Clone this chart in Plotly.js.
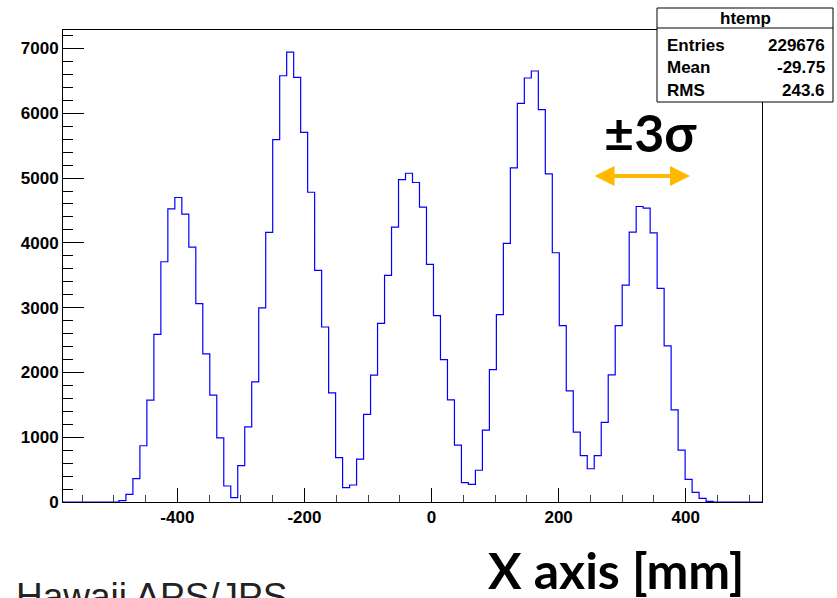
<!DOCTYPE html>
<html>
<head>
<meta charset="utf-8">
<script src="https://cdn.plot.ly/plotly-3.0.1.min.js"></script>
<style>html,body{margin:0;padding:0;background:#fff;}#chart{width:837px;height:598px;}</style>
</head>
<body>
<div id="chart"></div>
<script>
// Histogram binning (ROOT default: 100 bins)
const binLow = -580;
const binWidth = 11;
const counts = [
  0, 0, 0, 0, 0, 0, 0, 0, 20, 118,
  360, 868, 1572, 2588, 3708, 4525, 4700, 4443, 3934, 3061,
  2285, 1649, 991, 247, 67, 562, 1161, 1854, 2997, 4160,
  5593, 6579, 6944, 6553, 5706, 4781, 3575, 2701, 1684, 686,
  221, 262, 662, 1351, 1957, 2758, 3498, 4242, 4977, 5074,
  4931, 4550, 3667, 2876, 2199, 1577, 878, 298, 272, 490,
  1109, 2044, 2892, 3991, 5157, 6153, 6544, 6652, 6055, 5064,
  3847, 2722, 1715, 1077, 716, 513, 716, 1228, 1962, 2722,
  3348, 4165, 4561, 4535, 4155, 3297, 2409, 1422, 801, 350,
  149, 57, 11, 0, 0, 0, 0, 0, 0, 0
];
// Stats box
const statsTitle = "htemp";
const statsLabels = ["Entries", "Mean", "RMS"];
const statsValues = ["229676", "-29.75", "243.6"];
// Axis ticks
const xTickVals = [-400, -200, 0, 200, 400];
const xTickText = ["-400", "-200", "0", "200", "400"];
const yTickVals = [0, 1000, 2000, 3000, 4000, 5000, 6000, 7000];
const yTickText = ["0", "1000", "2000", "3000", "4000", "5000", "6000", "7000"];
const xRange = [-580, 520];
const yRange = [0, 7285];

// build step outline from bin edges
const xs = [], ys = [];
for (let i = 0; i < counts.length; i++) {
  xs.push(binLow + i * binWidth);
  ys.push(counts[i]);
}
xs.push(binLow + counts.length * binWidth);
ys.push(counts[counts.length - 1]);

const W = 837, H = 598;
const M = {l: 63, r: 75, t: 30, b: 96};
const PW = W - M.l - M.r, PH = H - M.t - M.b;
const px = v => (v - M.l) / PW;
const py = v => (H - M.b - v) / PH;

const tickFont = {family: "Liberation Sans, Arial, sans-serif", size: 17, color: "#000", weight: "bold"};
const statFont = {family: "Liberation Sans, Arial, sans-serif", size: 17, color: "#000", weight: "bold"};

const annotations = [];
annotations.push({xref: "paper", yref: "paper", x: px(745), y: py(18), text: statsTitle, showarrow: false,
  xanchor: "center", yanchor: "middle", font: statFont});
const rowY = [45, 67, 90];
for (let i = 0; i < statsLabels.length; i++) {
  annotations.push({xref: "paper", yref: "paper", x: px(665), y: py(rowY[i]), text: statsLabels[i], showarrow: false,
    xanchor: "left", yanchor: "middle", font: statFont});
  annotations.push({xref: "paper", yref: "paper", x: px(827), y: py(rowY[i]), text: statsValues[i], showarrow: false,
    xanchor: "right", yanchor: "middle", font: statFont});
}
annotations.push({xref: "paper", yref: "paper", x: px(650), y: py(132), text: "±3σ", showarrow: false,
  xanchor: "center", yanchor: "middle", font: {family: "Lato, sans-serif", size: 52, color: "#000", weight: "bold"}});
annotations.push({xref: "paper", yref: "paper", x: px(690), y: py(176), ax: -97, ay: 0, text: "",
  showarrow: true, arrowhead: 2, startarrowhead: 2, arrowside: "end+start", arrowwidth: 4, arrowsize: 1, startarrowsize: 1,
  arrowcolor: "#FFBA00"});
annotations.push({xref: "paper", yref: "paper", x: px(616), y: py(570), text: "X axis [mm]", showarrow: false,
  xanchor: "center", yanchor: "middle", font: {family: "Lato, sans-serif", size: 50, color: "#000", weight: "bold"}});
annotations.push({xref: "paper", yref: "paper", x: px(14), y: py(574), text: "Hawaii APS/JPS", showarrow: false,
  xanchor: "left", yanchor: "top", font: {family: "Liberation Sans, Arial, sans-serif", size: 37, color: "#222"}});

const shapes = [
  {type: "rect", xref: "paper", yref: "paper", x0: px(657), x1: px(833), y0: py(8), y1: py(102),
   line: {color: "#000", width: 1}, fillcolor: "#fff", layer: "above"},
  {type: "line", xref: "paper", yref: "paper", x0: px(657), x1: px(833), y0: py(28), y1: py(28),
   line: {color: "#000", width: 1}, layer: "above"}
];

const trace = {
  type: "scatter", mode: "lines", x: xs, y: ys,
  line: {shape: "hv", color: "#0000ff", width: 1.2},
  hoverinfo: "x+y", showlegend: false
};

const layout = {
  width: W, height: H, margin: M,
  paper_bgcolor: "#fff", plot_bgcolor: "#fff",
  showlegend: false,
  xaxis: {
    range: xRange, showgrid: false, zeroline: false,
    showline: true, linecolor: "#000", linewidth: 1, mirror: true,
    ticks: "inside", ticklen: 14, tickwidth: 1, tickcolor: "#000",
    tickmode: "array", tickvals: xTickVals, ticktext: xTickText,
    minor: {dtick: 50, tick0: 0, ticks: "inside", ticklen: 7, tickwidth: 1, tickcolor: "#444", showgrid: false},
    tickfont: tickFont
  },
  yaxis: {
    range: yRange, showgrid: false, zeroline: false,
    showline: true, linecolor: "#000", linewidth: 1, mirror: true,
    ticks: "inside", ticklen: 21, tickwidth: 1, tickcolor: "#000",
    tickmode: "array", tickvals: yTickVals, ticktext: yTickText,
    minor: {dtick: 200, tick0: 0, ticks: "inside", ticklen: 10, tickwidth: 1, tickcolor: "#000", showgrid: false},
    tickfont: tickFont
  },
  annotations: annotations,
  shapes: shapes
};

Plotly.newPlot("chart", [trace], layout, {displayModeBar: false, staticPlot: true});
</script>
</body>
</html>
